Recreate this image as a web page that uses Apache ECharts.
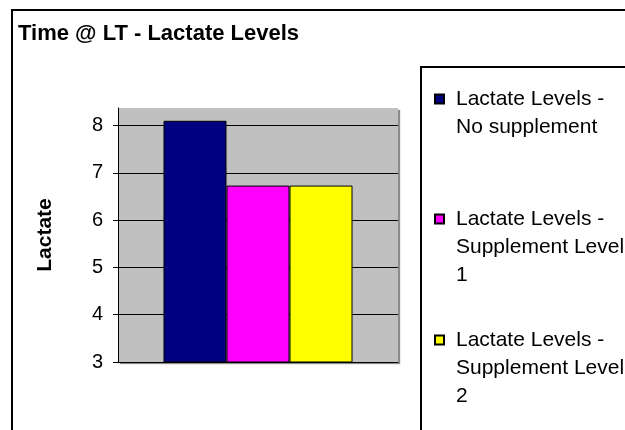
<!DOCTYPE html>
<html>
<head>
<meta charset="utf-8">
<script src="https://cdn.jsdelivr.net/npm/echarts@6/dist/echarts.min.js"></script>
<style>
html,body{margin:0;padding:0;background:#fff;}
#chart{width:625px;height:430px;}
</style>
</head>
<body>
<div id="chart"></div>
<script>
const titleText = 'Time @ LT - Lactate Levels';
const categories = ['Time @ LT'];
const seriesNames = ['Lactate Levels - No supplement', 'Lactate Levels - Supplement Level 1', 'Lactate Levels - Supplement Level 2'];
const legendLines = [
  ['Lactate Levels -', 'No supplement'],
  ['Lactate Levels -', 'Supplement Level', '1'],
  ['Lactate Levels -', 'Supplement Level', '2']
];
const seriesValues = [8.1, 6.73, 6.73];
const seriesColors = ['#000080', '#ff00ff', '#ffff00'];
const yTicks = [3, 4, 5, 6, 7, 8];
const yAxisName = 'Lactate';

const FONT = '"Liberation Sans", Arial, sans-serif';
const LH = 28;
const legendFirstLine = [99, 219, 340];

const chart = echarts.init(document.getElementById('chart'), null, {renderer: 'canvas'});

const legends = seriesNames.map((name, i) => {
  const lines = legendLines[i];
  const n = lines.length;
  // leading blank lines keep the marker level with the first text line
  const label = '\n'.repeat(n - 1) + lines.join('\n');
  return {
    data: [name],
    orient: 'vertical',
    left: 434,
    top: legendFirstLine[i] - (2 * n - 1) * LH / 2,
    padding: 0,
    itemWidth: 9,
    itemHeight: 9,
    icon: 'rect',
    selectedMode: false,
    formatter: () => label,
    textStyle: {
      fontFamily: FONT,
      fontSize: 21,
      lineHeight: LH,
      color: '#000',
      padding: [0, 0, 0, 7]
    }
  };
});

const option = {
  animation: false,
  backgroundColor: '#fff',
  title: {
    text: titleText,
    left: 18,
    top: 23,
    padding: 0,
    textStyle: {fontFamily: FONT, fontSize: 22, fontWeight: 'bold', color: '#000', lineHeight: 22}
  },
  legend: legends,
  graphic: [
    {type: 'rect', shape: {x: 12, y: 10, width: 700, height: 500}, style: {fill: 'none', stroke: '#000', lineWidth: 2}, silent: true},
    {type: 'rect', shape: {x: 421, y: 67, width: 400, height: 500}, style: {fill: 'none', stroke: '#000', lineWidth: 2}, silent: true}
  ],
  grid: {
    left: 118, right: 227, top: 108, bottom: 68,
    show: true, backgroundColor: '#c0c0c0', borderWidth: 0,
    shadowColor: 'rgba(0,0,0,0.45)', shadowBlur: 1, shadowOffsetX: 2, shadowOffsetY: 2
  },
  xAxis: {
    type: 'category',
    data: categories,
    axisLine: {show: true, lineStyle: {color: '#000', width: 1}},
    axisTick: {show: false},
    axisLabel: {show: false},
    splitLine: {show: false}
  },
  yAxis: {
    type: 'value',
    min: 3,
    max: 8.37,
    interval: 1,
    name: yAxisName,
    nameLocation: 'middle',
    nameGap: 62,
    nameRotate: 90,
    nameTextStyle: {fontFamily: FONT, fontSize: 21, fontWeight: 'bold', color: '#000'},
    axisLine: {show: true, lineStyle: {color: '#000', width: 1}},
    axisTick: {show: true, inside: false, length: 5, lineStyle: {color: '#000'}, customValues: yTicks},
    axisLabel: {fontFamily: FONT, fontSize: 20, color: '#000', margin: 15, customValues: yTicks},
    splitLine: {show: true, lineStyle: {color: '#000', width: 1}}
  },
  series: seriesNames.map((name, i) => ({
    type: 'bar',
    name: name,
    data: [seriesValues[i]],
    barWidth: 63,
    barGap: '0%',
    itemStyle: {color: seriesColors[i], borderColor: '#000', borderWidth: 1}
  }))
};
chart.setOption(option);
</script>
</body>
</html>
